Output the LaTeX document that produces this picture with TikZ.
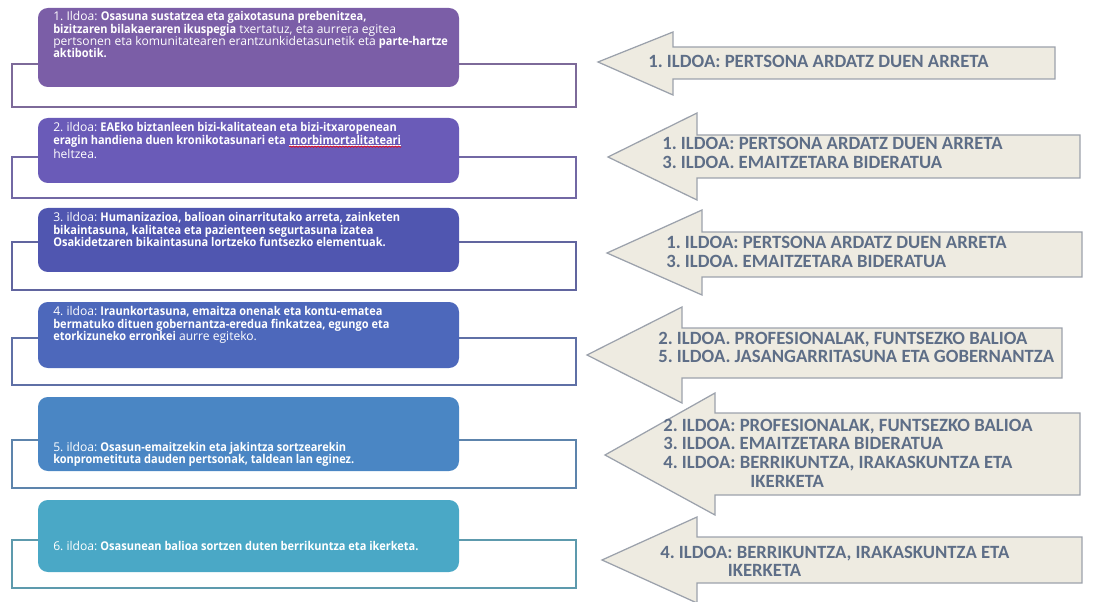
\documentclass[tikz,border=0pt]{standalone}
\usepackage{fontspec}
\setmainfont{Carlito}
\newfontfamily\kutxafont{Open Sans}[BoldFeatures={FakeStretch=0.91}]
\usetikzlibrary{decorations.pathmorphing}
\frenchspacing

\definecolor{kolA}{HTML}{7B5EA7}
\definecolor{kolB}{HTML}{6A5BB8}
\definecolor{kolC}{HTML}{5056B0}
\definecolor{kolD}{HTML}{4D68BB}
\definecolor{kolE}{HTML}{4A86C4}
\definecolor{kolF}{HTML}{4AA8C6}
\definecolor{gezifill}{HTML}{EEEBE1}
\definecolor{geziline}{HTML}{9CA2AC}
\definecolor{gezitext}{HTML}{5E6E87}

% lerroak goitik behera, oinarri-lerroa lehen lerroan
\newcommand{\lerroak}[1]{\vtop{\let\\\cr\halign{##\hfil\cr#1\crcr}}}
\newcommand{\gorriwave}[1]{\tikz[baseline=(w.base)]{\node[inner sep=0pt, text=white] (w) {#1};
	\draw[white, line width=0.4pt] ([yshift=-0.6pt]w.base west) -- ([yshift=-0.6pt]w.base east);
	\draw[red, line width=0.4pt, decorate, decoration={snake, amplitude=0.5pt, segment length=2.2pt}]
		([yshift=-1.8pt]w.base west) -- ([yshift=-1.8pt]w.base east);}}

\begin{document}
\begin{tikzpicture}[x=0.025cm, y=-0.025cm,
	marko/.style = {line width=1.4pt},
	kutxa/.style = {rounded corners=7pt},
	ktestu/.style = {anchor=base west, inner sep=0pt, text=white,
		font=\kutxafont\fontsize{8.6}{8.65}\selectfont},
	gezi/.style = {fill=gezifill, draw=geziline, line width=0.9pt, line join=miter},
	gtestu/.style = {anchor=base west, inner sep=0pt, text=gezitext,
		font=\bfseries\fontsize{13.3}{13.5}\selectfont}]
	\useasboundingbox (0,0) rectangle (1095,602);

	% ezkerreko markoak
	\draw[marko, draw=kolA!65!gray] (12,64) rectangle (576,107);
	\draw[marko, draw=kolB!65!gray] (12,157) rectangle (576,198);
	\draw[marko, draw=kolC!65!gray] (12,242) rectangle (576,290);
	\draw[marko, draw=kolD!65!gray] (12,338) rectangle (576,385);
	\draw[marko, draw=kolE!65!gray] (12,440) rectangle (576,488);
	\draw[marko, draw=kolF!65!gray] (12,540) rectangle (576,588);

	% kutxa koloretsuak
	\fill[kutxa, kolA] (38,8) rectangle (459,87);
	\fill[kutxa, kolB] (38,118) rectangle (459,183);
	\fill[kutxa, kolC] (38,208) rectangle (459,272);
	\fill[kutxa, kolD] (38,302) rectangle (459,368);
	\fill[kutxa, kolE] (38,397) rectangle (459,471);
	\fill[kutxa, kolF] (38,500) rectangle (459,572);

	\node[ktestu] (t1) at (53,21) {\lerroak{1. Ildoa: \textbf{Osasuna sustatzea eta gaixotasuna prebenitzea,}\\
		\textbf{bizitzaren bilakaeraren ikuspegia} txertatuz, eta aurrera egitea\\
		pertsonen eta komunitatearen erantzunkidetasunetik eta \textbf{parte-hartze}\\
		\textbf{aktibotik.}}};
	\node[ktestu] (t2) at (53,132) {\lerroak{2. ildoa: \textbf{EAEko biztanleen bizi-kalitatean eta bizi-itxaropenean}\\
		\textbf{eragin handiena duen kronikotasunari eta} \gorriwave{\textbf{morbimortalitateari}}\\
		heltzea.}};
	\node[ktestu] (t3) at (53,222) {\lerroak{3. ildoa: \textbf{Humanizazioa, balioan oinarritutako arreta, zainketen}\\
		\textbf{bikaintasuna, kalitatea eta pazienteen segurtasuna izatea}\\
		\textbf{Osakidetzaren bikaintasuna lortzeko funtsezko elementuak.}}};
	\node[ktestu] (t4) at (53,316) {\lerroak{4. ildoa: \textbf{Iraunkortasuna, emaitza onenak eta kontu-ematea}\\
		\textbf{bermatuko dituen gobernantza-eredua finkatzea, egungo eta}\\
		\textbf{etorkizuneko erronkei} aurre egiteko.}};
	\node[ktestu] (t5) at (53,451) {\lerroak{5. ildoa: \textbf{Osasun-emaitzekin eta jakintza sortzearekin}\\
		\textbf{konprometituta dauden pertsonak, taldean lan eginez.}}};
	\node[ktestu] (t6) at (53,550) {6. ildoa: \textbf{Osasunean balioa sortzen duten berrikuntza eta ikerketa.}};

	% geziak
	\draw[gezi] (598,62) -- (673,32) -- (673,47) -- (1055,47) -- (1055,79) -- (673,79) -- (673,95) -- cycle;
	\draw[gezi] (608,157) -- (697,113) -- (697,135) -- (1080,135) -- (1080,178) -- (697,178) -- (697,200) -- cycle;
	\draw[gezi] (607,253) -- (702,210) -- (702,232) -- (1082,232) -- (1082,277) -- (702,277) -- (702,295) -- cycle;
	\draw[gezi] (587,355) -- (682,307) -- (682,328) -- (1062,328) -- (1062,378) -- (682,378) -- (682,403) -- cycle;
	\draw[gezi] (605,455) -- (715,393) -- (715,413) -- (1080,413) -- (1080,495) -- (715,495) -- (715,515) -- cycle;
	\draw[gezi] (602,560) -- (697,517) -- (697,537) -- (1082,537) -- (1082,583) -- (697,583) -- (697,603) -- cycle;

	\node[gtestu] (g1) at (648,68) {1. ILDOA: PERTSONA ARDATZ DUEN ARRETA};
	\node[gtestu] (g2) at (662,150) {\lerroak{1. ILDOA: PERTSONA ARDATZ DUEN ARRETA\\3. ILDOA. EMAITZETARA BIDERATUA}};
	\node[gtestu] (g3) at (666,249) {\lerroak{1. ILDOA: PERTSONA ARDATZ DUEN ARRETA\\3. ILDOA. EMAITZETARA BIDERATUA}};
	\node[gtestu] (g4) at (658,344) {\lerroak{2. ILDOA. PROFESIONALAK, FUNTSEZKO BALIOA\\5. ILDOA. JASANGARRITASUNA ETA GOBERNANTZA}};
	\node[gtestu] (g5) at (663,431) {\lerroak{2. ILDOA: PROFESIONALAK, FUNTSEZKO BALIOA\\3. ILDOA. EMAITZETARA BIDERATUA\\
		4. ILDOA: BERRIKUNTZA, IRAKASKUNTZA ETA\\\hspace*{62pt}IKERKETA}};
	\node[gtestu] (g6) at (660,558) {\lerroak{4. ILDOA: BERRIKUNTZA, IRAKASKUNTZA ETA\\\hspace*{48pt}IKERKETA}};
\end{tikzpicture}
\end{document}
